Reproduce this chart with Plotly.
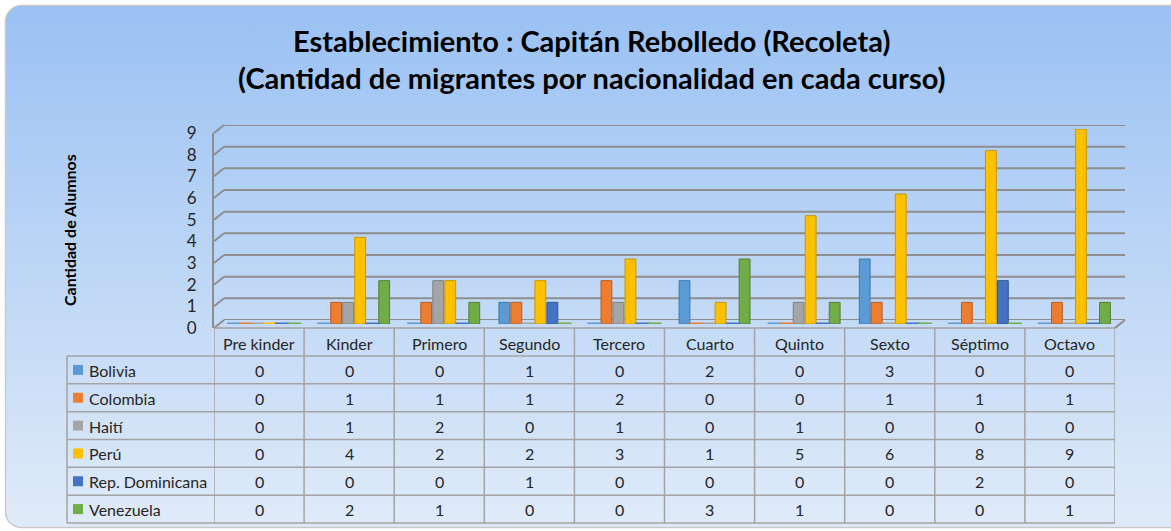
import base64
import plotly.graph_objects as go

# ---------------- data ----------------
cursos = ["Pre kinder", "Kinder", "Primero", "Segundo", "Tercero",
          "Cuarto", "Quinto", "Sexto", "Séptimo", "Octavo"]
nacionalidades = ["Bolivia", "Colombia", "Haití", "Perú", "Rep. Dominicana", "Venezuela"]
bolivia = [0, 0, 0, 1, 0, 2, 0, 3, 0, 0]
colombia = [0, 1, 1, 1, 2, 0, 0, 1, 1, 1]
haiti = [0, 1, 2, 0, 1, 0, 1, 0, 0, 0]
peru = [0, 4, 2, 2, 3, 1, 5, 6, 8, 9]
rep_dominicana = [0, 0, 0, 1, 0, 0, 0, 0, 2, 0]
venezuela = [0, 2, 1, 0, 0, 3, 1, 0, 0, 1]
y_ticks = list(range(0, 10))

series = [bolivia, colombia, haiti, peru, rep_dominicana, venezuela]
colores = ["#5B9BD5", "#ED7D31", "#A5A5A5", "#FFC000", "#4472C4", "#70AD47"]
bordes = ["#3F78AC", "#B85C1F", "#7F7F7F", "#C89600", "#2F5597", "#507E33"]

titulo_1 = "Establecimiento : Capitán Rebolledo (Recoleta)"
titulo_2 = "(Cantidad de migrantes por nacionalidad en cada curso)"
y_titulo = "Cantidad de Alumnos"

# ---------------- geometry helpers ----------------
W, H = 1171, 531
FONT = "Lato"


def fx(px):
    return px / W


def fy(py):
    return 1 - py / H


# front plane (pixels)
FX0, FX1 = 214, 1115
FY0, FY9 = 328, 133
# back plane offset
BDX, BDY = 10, -8
# mid plane (bars)
MDX, MDY = 5, -4

n = len(cursos)
xs = list(range(n))

fig = go.Figure()

# bars
for name, vals, col, bd in zip(nacionalidades, series, colores, bordes):
    fig.add_trace(go.Bar(
        x=xs, y=vals, name=name, xaxis="x3", yaxis="y3",
        marker=dict(color=col, line=dict(color=bd, width=1)),
        showlegend=False, hoverinfo="skip"))

# flat discs for zero values
gw = 0.8
slot = gw / len(series)
for j, (vals, col) in enumerate(zip(series, colores)):
    zx = [i - gw / 2 + slot * (j + 0.5) for i, v in enumerate(vals) if v == 0]
    fig.add_trace(go.Scatter(
        x=zx, y=[0] * len(zx), xaxis="x3", yaxis="y3", mode="markers",
        marker=dict(symbol="line-ew", size=10, line=dict(color=col, width=3)),
        showlegend=False, hoverinfo="skip"))

shapes = []
gridc = "#8E8E8E"

# back wall gridlines
for v in y_ticks:
    shapes.append(dict(type="line", xref="x2 domain", yref="y2", x0=0, x1=1, y0=v, y1=v,
                       line=dict(color=gridc, width=2), layer="below"))


def yfront(v):
    return FY0 + (FY9 - FY0) * v / 9


# left side-wall diagonals
for v in y_ticks:
    shapes.append(dict(type="line", xref="paper", yref="paper",
                       x0=fx(FX0), y0=fy(yfront(v)), x1=fx(FX0 + BDX), y1=fy(yfront(v) + BDY),
                       line=dict(color=gridc, width=2), layer="below"))
# floor right diagonal
shapes.append(dict(type="line", xref="paper", yref="paper",
                   x0=fx(FX1), y0=fy(FY0), x1=fx(FX1 + BDX), y1=fy(FY0 + BDY),
                   line=dict(color=gridc, width=2), layer="below"))

# ---------------- data table ----------------
tcol = "#A3A3A3"
T_TOP = FY0
T_HEAD = 356
ROW_H = (523 - 356) / 6
T_LEFT = 67
rows_y = [T_HEAD + ROW_H * k for k in range(7)]

shapes.append(dict(type="line", xref="paper", yref="paper",
                   x0=fx(FX0), x1=fx(FX1), y0=fy(T_TOP), y1=fy(T_TOP),
                   line=dict(color=tcol, width=1.5)))
for yy in rows_y:
    shapes.append(dict(type="line", xref="paper", yref="paper",
                       x0=fx(T_LEFT), x1=fx(FX1), y0=fy(yy), y1=fy(yy),
                       line=dict(color=tcol, width=1.5)))
for k in range(n + 1):
    shapes.append(dict(type="line", xref="x", yref="paper",
                       x0=k - 0.5, x1=k - 0.5, y0=fy(T_TOP), y1=fy(rows_y[-1]),
                       line=dict(color=tcol, width=1.5)))
shapes.append(dict(type="line", xref="paper", yref="paper",
                   x0=fx(T_LEFT), x1=fx(T_LEFT), y0=fy(T_HEAD), y1=fy(rows_y[-1]),
                   line=dict(color=tcol, width=1.5)))

annotations = []
txtc = "#262626"
for i, c in enumerate(cursos):
    annotations.append(dict(text=c, x=i, xref="x", y=fy((T_TOP + T_HEAD) / 2 + 1), yref="paper",
                            showarrow=False, font=dict(family=FONT, size=16, color=txtc),
                            xanchor="center", yanchor="middle"))
for r, (name, vals, col) in enumerate(zip(nacionalidades, series, colores)):
    cy = rows_y[r] + ROW_H / 2
    shapes.append(dict(type="rect", xref="paper", yref="paper",
                       x0=fx(73), x1=fx(83), y0=fy(cy - 5), y1=fy(cy + 5),
                       fillcolor=col, line=dict(width=0)))
    annotations.append(dict(text=name, x=fx(87), xref="paper", y=fy(cy + 0.5), yref="paper",
                            showarrow=False, font=dict(family=FONT, size=16, color=txtc),
                            xanchor="left", yanchor="middle"))
    for i, v in enumerate(vals):
        annotations.append(dict(text=str(v), x=i, xref="x", y=fy(cy + 0.5), yref="paper",
                                showarrow=False, font=dict(family=FONT, size=16, color=txtc),
                                xanchor="center", yanchor="middle"))

# titles
for t, ty in ((titulo_1, 40), (titulo_2, 78)):
    annotations.append(dict(text="<b>" + t + "</b>", x=fx(591), y=fy(ty), xref="paper",
                            yref="paper", showarrow=False,
                            font=dict(family=FONT, size=29, color="#000000"),
                            xanchor="center", yanchor="middle"))
annotations.append(dict(text="<b>" + y_titulo + "</b>", x=fx(69), y=fy(230), xref="paper",
                        yref="paper", showarrow=False, textangle=-90,
                        font=dict(family=FONT, size=16, color="#000000"),
                        xanchor="center", yanchor="middle"))

# background (rounded, gradient)
svg = (f"<svg xmlns='http://www.w3.org/2000/svg' width='{W}' height='{H}' viewBox='0 0 {W} {H}' "
       "preserveAspectRatio='none'>"
       "<defs><linearGradient id='g' x1='0' y1='0' x2='0' y2='1'>"
       "<stop offset='0' stop-color='#9AC1F3'/><stop offset='1' stop-color='#E0EBF9'/>"
       "</linearGradient></defs>"
       f"<rect x='5.5' y='5.5' width='{W + 20}' height='{H - 9}' rx='16' ry='16' "
       "fill='url(#g)' stroke='#C9C9C9' stroke-width='1.5'/></svg>")
bg = "data:image/svg+xml;base64," + base64.b64encode(svg.encode()).decode()

axis_hidden = dict(visible=False, range=[-0.5, n - 0.5], fixedrange=True, automargin=False)
fig.update_layout(
    width=W, height=H, margin=dict(l=0, r=0, t=0, b=0, pad=0, autoexpand=False),
    paper_bgcolor="white", plot_bgcolor="rgba(0,0,0,0)",
    barmode="group", bargap=0.2, bargroupgap=0.1,
    font=dict(family=FONT), showlegend=False,
    xaxis=dict(axis_hidden, domain=[fx(FX0), fx(FX1)], anchor="y"),
    yaxis=dict(domain=[fy(FY0), fy(FY9)], range=[0, 9], anchor="x", automargin=False,
               tickvals=y_ticks, ticktext=[str(t) for t in y_ticks],
               showgrid=False, zeroline=False, showline=True, linecolor=gridc, linewidth=2,
               ticks="", ticklabelstandoff=12,
               tickfont=dict(family=FONT, size=17, color=txtc), fixedrange=True),
    xaxis2=dict(axis_hidden, domain=[fx(FX0 + BDX), fx(FX1 + BDX)], anchor="y2"),
    yaxis2=dict(visible=False, domain=[fy(FY0 + BDY), fy(FY9 + BDY)], range=[0, 9],
                anchor="x2", automargin=False),
    xaxis3=dict(axis_hidden, domain=[fx(FX0 + MDX), fx(FX1 + MDX)], anchor="y3"),
    yaxis3=dict(visible=False, domain=[fy(FY0 + MDY), fy(FY9 + MDY)], range=[0, 9],
                anchor="x3", automargin=False),
    shapes=shapes, annotations=annotations,
    images=[dict(source=bg, xref="paper", yref="paper", x=0, y=1, sizex=1, sizey=1,
                 xanchor="left", yanchor="top", sizing="stretch", layer="below")],
)

fig.write_html("out.html", config={"displayModeBar": False},
               post_script="document.body.style.margin='0';")
